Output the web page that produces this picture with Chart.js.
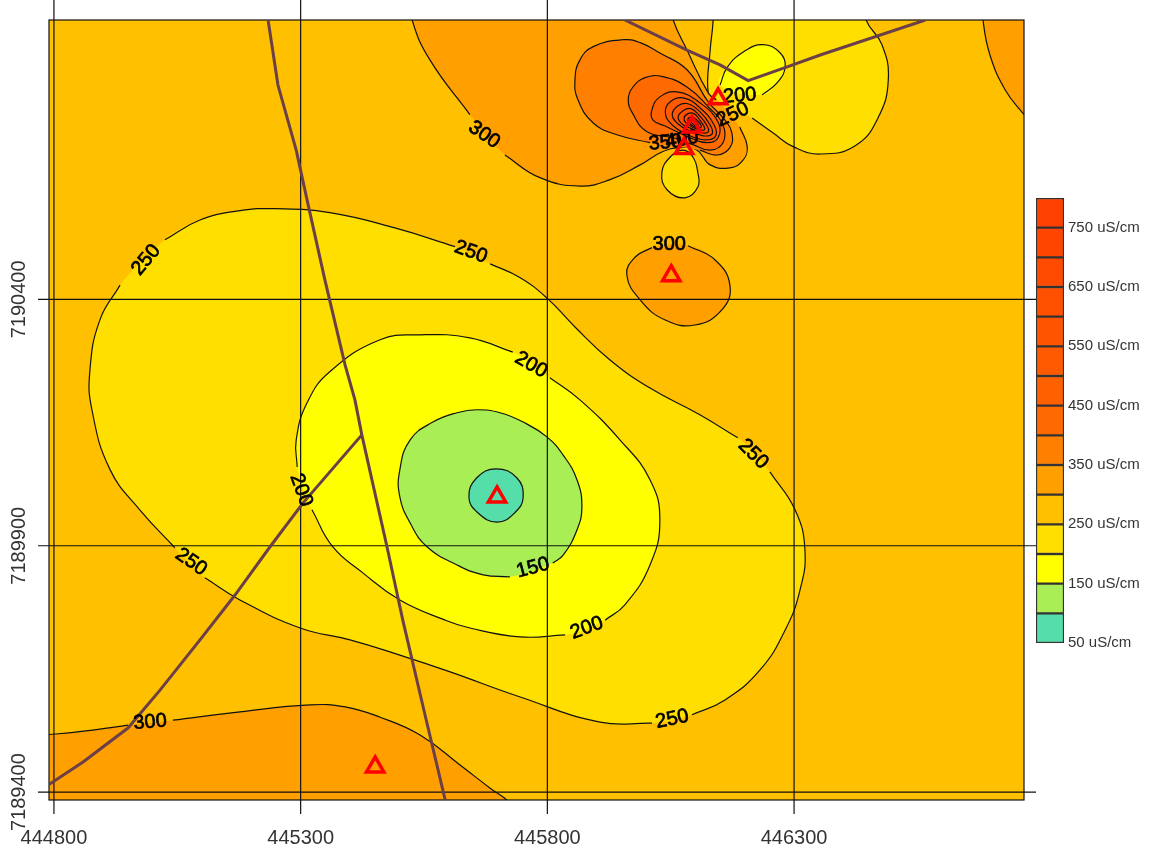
<!DOCTYPE html>
<html>
<head>
<meta charset="utf-8">
<script src="https://cdn.jsdelivr.net/npm/chart.js@4"></script>
<style>
  body { margin: 0; background: #fff; }
  #map { position: absolute; left: 0; top: 0; }
  #scaleBar { position: absolute; left: 1030px; top: 190px; }
</style>
</head>
<body>
<canvas id="map" width="1151" height="850"></canvas>
<canvas id="scaleBar" width="121" height="462"></canvas>
<script>
// coordinates are [easting - E0, northing - N0], null = gap left for a contour label
const E0 = 444000, N0 = 7189000;

const xTicks = [444800, 445300, 445800, 446300];
const yTicks = [7190400, 7189900, 7189400];

const frame = [[700,300],[2850,300],[2850,2030],[700,2030]];

const c250a = [[1248,1584],[1359,1576],[1491,1545],[1613,1507],null,[1684,1472],[1745,1444],[1801,1401],[1856,1344],[1927,1277],[2008,1220],[2109,1166],[2186,1119],null,[2251,1050],[2302,973],[2322,892],[2312,810],[2282,729],[2231,648],[2160,587],[2093,557],null,[2012,540],[1907,542],[1745,593],[1603,644],[1501,678],[1400,709],[1299,733],[1177,790],[1106,835],null,[1045,896],[974,973],[914,1054],[877,1176],[873,1257],[893,1358],[934,1429],null,[1025,1521],[1096,1561],[1177,1580],[1248,1584]];
const c200a = [[1313,1190],[1359,1253],[1461,1318],[1542,1328],[1643,1322],[1730,1293],null,[1805,1241],[1866,1196],[1947,1115],[2008,1034],[2028,952],[2008,861],[1957,780],[1917,749],null,[1836,719],[1745,715],[1643,733],[1593,749],[1501,790],[1426,845],[1365,898],[1323,973],null,[1293,1060],[1291,1115],[1313,1190]];
const c150a = [[1657,1176],[1704,1170],[1751,1151],[1799,1121],[1832,1084],[1860,1034],[1870,979],[1860,932],[1832,881],[1811,865],null,[1724,837],[1670,841],[1617,861],[1556,898],[1522,946],[1501,999],[1501,1054],[1522,1115],[1568,1151],[1617,1170],[1657,1176]];
const c100a = [[1696,1056],[1738,1038],[1751,999],[1734,967],[1698,948],[1659,967],[1641,999],[1657,1038],[1696,1056]];
const c300c = [[731,514],[804,518],[879,526],[950,536],null,[1041,546],[1177,563],[1319,577],[1390,573],[1461,552],[1542,516],[1623,455],[1684,408],[1724,378],[1765,323],[731,323]];
const c300d = [[2680,2030],[2683,1967],[2697,1896],[2728,1825],[2766,1775],[2799,1734],[2850,1734],[2850,2030]];
const c300b = [[2085,1509],[2140,1480],[2170,1429],[2154,1379],[2099,1348],[2039,1358],[1988,1399],[1961,1450],[1978,1486],[2012,1505],null,[2085,1509]];
const c300a = [[1518,2030],[1526,1967],[1562,1886],[1643,1775],null,[1714,1693],[1785,1647],[1866,1630],[1927,1643],[1988,1673],[2032,1699],[2069,1708],[2103,1703],[2130,1673],[2170,1667],[2197,1683],[2205,1710],[2190,1750],null,[2142,1805],[2126,1819],[2083,1906],[2055,1967],[2040,2030]];
const c250b = [[2136,2030],[2136,1967],[2130,1906],[2126,1819],[2142,1805],null,[2215,1768],[2257,1738],[2298,1710],[2353,1695],[2424,1712],[2470,1768],[2491,1846],[2478,1917],[2446,1967],[2435,2030]];
const c200b = [[2150,1835],[2164,1870],[2197,1902],[2237,1917],[2272,1900],[2282,1872],[2266,1840],[2235,1815],null,[2150,1835]];
const c250c = [[2075,1703],[2049,1689],[2032,1657],[2043,1622],[2079,1606],[2105,1628],[2105,1657],[2095,1689],[2075,1703]];
const c350a = [[1953,1927],[1893,1913],[1866,1886],[1856,1846],[1862,1805],[1893,1758],[1941,1734],[2008,1718],null,[2109,1703],[2144,1693],[2170,1708],[2174,1738],[2160,1764],[2126,1801],[2083,1866],[2028,1900],[1988,1921],[1953,1927]];
const c400a = [[1964,1805],[1972,1829],[1998,1850],[2034,1852],[2083,1831],[2126,1791],[2156,1754],[2156,1718],[2130,1703],[2095,1714],[2055,1728],[2002,1740],[1972,1779],[1964,1805]];
const c450a = [[2012,1785],[2028,1811],[2063,1821],[2109,1799],[2146,1760],[2146,1728],[2124,1718],[2089,1728],[2043,1750],[2014,1764],[2012,1785]];
const c500a = [[2039,1779],[2049,1801],[2075,1809],[2109,1789],[2138,1754],[2140,1730],[2116,1724],[2085,1734],[2053,1754],[2039,1779]];
const c550a = [[2053,1775],[2065,1793],[2085,1797],[2109,1781],[2130,1754],[2134,1736],[2116,1732],[2089,1742],[2065,1756],[2053,1775]];
const c600a = [[2065,1770],[2075,1783],[2091,1787],[2109,1772],[2124,1752],[2126,1740],[2114,1738],[2093,1746],[2073,1756],[2065,1770]];
const c650a = [[2077,1768],[2085,1777],[2097,1777],[2109,1764],[2118,1750],[2118,1744],[2109,1744],[2093,1750],[2081,1758],[2077,1768]];
const c700a = [[2085,1766],[2093,1770],[2103,1764],[2112,1752],[2109,1748],[2099,1750],[2089,1756],[2085,1766]];
const c750a = [[2091,1762],[2097,1764],[2105,1756],[2105,1752],[2097,1754],[2091,1762]];

const road1 = [[1234,1967],[1254,1835],[1291,1703],[1313,1602],[1349,1440],[1390,1267],[1410,1196],[1424,1125],[1475,898],[1507,749],[1552,557],[1593,384]];
const road2 = [[1424,1125],[1305,987],[1238,898],[1167,800],[1096,709],[1015,607],[950,530],[859,461],[788,414]];
const road3 = [[1957,1967],[2083,1906],[2150,1876],[2207,1844],[2286,1872],[2353,1896],[2566,1967]];

const sites = [[1698,999],[1451,451],[2051,1448],[2146,1807],[2093,1750],[2077,1706]];

const labelText = ['300','250','250','300','200','250','200','250','150','200','250','300','200','250','350','400'];
const labelE = [1672,987,1645,2047,1767,2217,1301,1078,1771,1880,2053,995,2190,2176,2039,2073];
const labelN = [1734,1480,1496,1511,1267,1086,1013,867,855,733,548,542,1813,1775,1718,1724];
const labelAngle = [35,-50,20,0,30,45,70,35,-15,-20,-12,-5,-5,-25,-5,-10];

// scale bar, lowest band first
const bandLow = [50,100,150,200,250,300,350,400,450,500,550,600,650,700,750];
const bandColors = ['#55DDAA','#AAEE55','#FFFF00','#FFDF00','#FFC000','#FFA000','#FF8000','#FF6A00','#FF6000','#FF5A00','#FF5500','#FF5000','#FF4B00','#FF4500','#FF4000'];
const barTicks = [50,150,250,350,450,550,650,750];

const toXY = p => ({ x: p[0] + E0, y: p[1] + N0 });

// closed rings get one extra point each end so the spline has no kink at the seam
function isRing(pts) {
  const n = pts.length, a = pts[0], b = pts[n - 1];
  return a && b && a[0] === b[0] && a[1] === b[1] && pts[1] && pts[n - 2];
}
function wrapRing(pts) {
  return isRing(pts) ? [pts[pts.length - 2]].concat(pts, [pts[1]]) : pts;
}

const layers = [
  [c300d, '#FFA000'], [c300c, '#FFA000'],
  [c250a, '#FFDF00'], [c200a, '#FFFF00'], [c150a, '#AAEE55'], [c100a, '#55DDAA'],
  [c250b, '#FFDF00'], [c200b, '#FFFF00'],
  [c300a, '#FFA000'], [c250c, '#FFDF00'], [c300b, '#FFA000'],
  [c350a, '#FF8000'], [c400a, '#FF6A00'], [c450a, '#FF6000'], [c500a, '#FF5A00'],
  [c550a, '#FF5500'], [c600a, '#FF5000'], [c650a, '#FF4B00'], [c700a, '#FF4500'], [c750a, '#FF4000']
];

const datasets = [{
  label: 'frame', data: frame.map(toXY), showLine: true, tension: 0,
  fill: 'shape', backgroundColor: '#FFC000', borderWidth: 0, pointRadius: 0
}];
layers.forEach(function(l) {
  datasets.push({
    label: 'fill', data: wrapRing(l[0].filter(p => p)).map(toXY), showLine: true, tension: 0.45,
    fill: 'shape', backgroundColor: l[1], borderWidth: 0, pointRadius: 0, capBezierPoints: false
  });
  const linePts = wrapRing(l[0]);
  const ring = isRing(l[0]);
  datasets.push({
    label: 'contour', data: linePts.map(p => p ? toXY(p) : { x: null, y: null }), showLine: true, tension: 0.45,
    fill: false, borderColor: '#111', borderWidth: 1.2, pointRadius: 0, spanGaps: false, capBezierPoints: false,
    // the wrapped end pieces only shape the spline, do not ink them twice
    segment: {
      borderColor: ctx => (ring && (ctx.p0DataIndex === 0 || ctx.p1DataIndex === linePts.length - 1)) ? 'rgba(0,0,0,0)' : undefined
    }
  });
});
[road1, road2, road3].forEach(function(r, i) {
  datasets.push({
    label: 'road' + (i + 1), data: r.map(toXY), showLine: true, tension: 0,
    fill: false, borderColor: '#6B3F48', borderWidth: 3, pointRadius: 0
  });
});
datasets.push({
  label: 'sites', data: sites.map(toXY), showLine: false, pointStyle: 'triangle',
  pointRadius: 10, pointBorderWidth: 3.5, pointBorderColor: '#FF0000', pointBackgroundColor: 'rgba(0,0,0,0)'
});
// chart.js paints higher order first
datasets.forEach((d, i) => { d.order = datasets.length - i; });

const mapOverlay = {
  id: 'mapOverlay',
  beforeDatasetDraw(chart, args) {
    const name = chart.data.datasets[args.index].label;
    const ctx = chart.ctx, a = chart.chartArea, sx = chart.scales.x, sy = chart.scales.y;
    if (name === 'road1') {
      ctx.save();
      ctx.strokeStyle = '#111';
      ctx.lineWidth = 1.2;
      ctx.strokeRect(a.left, a.top, a.right - a.left, a.bottom - a.top);
      ctx.beginPath();
      xTicks.forEach(function(v) {
        const px = sx.getPixelForValue(v);
        ctx.moveTo(px, 0);
        ctx.lineTo(px, 814);
      });
      yTicks.forEach(function(v) {
        const py = sy.getPixelForValue(v);
        ctx.moveTo(38, py);
        ctx.lineTo(1036, py);
      });
      ctx.stroke();
      ctx.fillStyle = '#333';
      ctx.font = '20px "Liberation Sans"';
      ctx.textAlign = 'center';
      ctx.textBaseline = 'middle';
      yTicks.forEach(function(v) {
        ctx.save();
        ctx.translate(19, sy.getPixelForValue(v));
        ctx.rotate(-Math.PI / 2);
        ctx.fillText(String(v), 0, 0);
        ctx.restore();
      });
      ctx.restore();
    }
    if (name === 'sites') {
      ctx.save();
      ctx.fillStyle = '#000';
      ctx.strokeStyle = '#000';
      ctx.lineWidth = 0.7;
      ctx.font = '20px "Liberation Sans"';
      ctx.textAlign = 'center';
      ctx.textBaseline = 'middle';
      labelText.forEach(function(t, i) {
        ctx.save();
        ctx.translate(sx.getPixelForValue(labelE[i] + E0), sy.getPixelForValue(labelN[i] + N0));
        ctx.rotate(labelAngle[i] * Math.PI / 180);
        ctx.fillText(t, 0, 0);
        ctx.strokeText(t, 0, 0);
        ctx.restore();
      });
      ctx.restore();
    }
  }
};

new Chart(document.getElementById('map'), {
  type: 'scatter',
  data: { datasets: datasets },
  plugins: [mapOverlay],
  options: {
    responsive: false,
    animation: false,
    devicePixelRatio: 1,
    layout: { padding: { top: 20, right: 127, left: 0, bottom: 0 } },
    plugins: { legend: { display: false }, tooltip: { enabled: false } },
    scales: {
      x: {
        type: 'linear', min: 444790, max: 446766,
        grid: { display: false },
        border: { display: false },
        afterBuildTicks: s => { s.ticks = xTicks.map(v => ({ value: v })); },
        afterFit: s => { s.height = 50; s.paddingLeft = 0; s.paddingRight = 0; },
        ticks: {
          autoSkip: false, maxRotation: 0, padding: 18,
          color: '#333', font: { family: 'Liberation Sans', size: 20 },
          callback: v => String(v)
        }
      },
      y: {
        type: 'linear', min: 7189384, max: 7190967,
        grid: { display: false },
        border: { display: false },
        ticks: { display: false },
        afterFit: s => { s.width = 49; s.paddingTop = 0; s.paddingBottom = 0; }
      }
    }
  }
});

new Chart(document.getElementById('scaleBar'), {
  type: 'bar',
  data: {
    labels: ['uS/cm'],
    datasets: bandLow.map((lo, i) => ({
      data: [[lo, lo + 50]],
      backgroundColor: bandColors[i],
      borderColor: '#333',
      borderWidth: 1.5,
      borderSkipped: false,
      grouped: false,
      barPercentage: 1,
      categoryPercentage: 1
    }))
  },
  options: {
    responsive: false,
    animation: false,
    devicePixelRatio: 1,
    layout: { padding: { left: 6, top: 8, bottom: 9, right: 0 } },
    plugins: { legend: { display: false }, tooltip: { enabled: false } },
    scales: {
      x: { display: false },
      y: {
        position: 'right', min: 50, max: 800,
        grid: { display: false, drawTicks: false },
        border: { display: false },
        afterBuildTicks: s => { s.ticks = barTicks.map(v => ({ value: v })); },
        afterFit: s => { s.width = 87; s.paddingTop = 0; s.paddingBottom = 0; },
        ticks: {
          padding: 4, color: '#333', font: { family: 'Liberation Sans', size: 15 },
          callback: v => v + ' uS/cm'
        }
      }
    }
  }
});
</script>
</body>
</html>
